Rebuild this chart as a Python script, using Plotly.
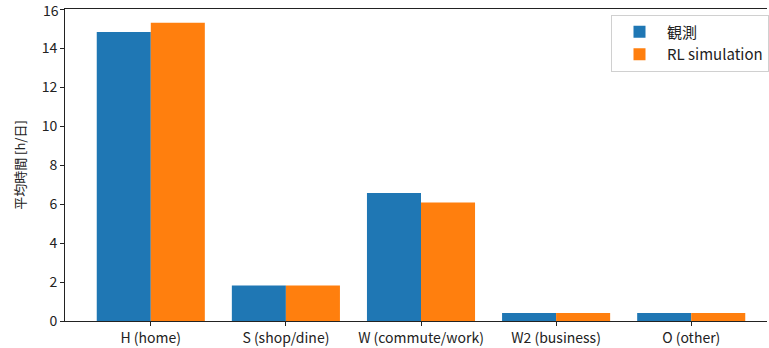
import plotly.graph_objects as go

categories = ["H (home)", "S (shop/dine)", "W (commute/work)", "W2 (business)", "O (other)"]
observed = [14.82, 1.82, 6.56, 0.41, 0.41]
rl_sim = [15.3, 1.82, 6.08, 0.41, 0.41]
series_names = ["観測", "RL simulation"]
y_ticks = [0, 2, 4, 6, 8, 10, 12, 14, 16]

FONT = "Noto Sans CJK JP, DejaVu Sans, sans-serif"

fig = go.Figure()
fig.add_trace(go.Bar(x=list(range(len(categories))), y=observed, name=series_names[0],
                     marker=dict(color="#1f77b4", line=dict(width=0))))
fig.add_trace(go.Bar(x=list(range(len(categories))), y=rl_sim, name=series_names[1],
                     marker=dict(color="#ff7f0e", line=dict(width=0))))

# top tick label drawn as annotation (plotly drops labels touching the page edge)
fig.add_annotation(x=0, xref="paper", y=y_ticks[-1], yref="y", text=str(y_ticks[-1]),
                   showarrow=False, xanchor="right", yanchor="middle", xshift=-5, yshift=-1,
                   borderpad=0,
                   font=dict(family=FONT, size=14, color="#222"))

fig.update_layout(
    width=769, height=348,
    margin=dict(l=65, r=0, t=9, b=27),
    paper_bgcolor="white", plot_bgcolor="white",
    barmode="group", bargap=0.2, bargroupgap=0,
    font=dict(family=FONT, size=14, color="#222"),
    showlegend=True,
    legend=dict(x=0.778, y=0.982, xanchor="left", yanchor="top",
                bgcolor="white", bordercolor="#d0d0d0", borderwidth=1,
                font=dict(size=15), itemwidth=45, tracegroupgap=0),
)
fig.update_xaxes(
    range=[-0.635, 4.561],
    tickmode="array", tickvals=list(range(len(categories))), ticktext=categories,
    ticks="outside", ticklen=4, tickcolor="#222",
    showline=True, linecolor="#222", linewidth=1, mirror=True,
    showgrid=False, zeroline=False,
)
fig.update_yaxes(
    range=[0, 16.0001],
    tickmode="array", tickvals=y_ticks, ticktext=[str(v) for v in y_ticks[:-1]] + [""],
    ticks="outside", ticklen=4, tickcolor="#222",
    showline=True, linecolor="#222", linewidth=1,
    showgrid=False, zeroline=False,
    title=dict(text="平均時間 [h/日]", font=dict(size=13), standoff=13),
)

fig.write_html("out.html")
